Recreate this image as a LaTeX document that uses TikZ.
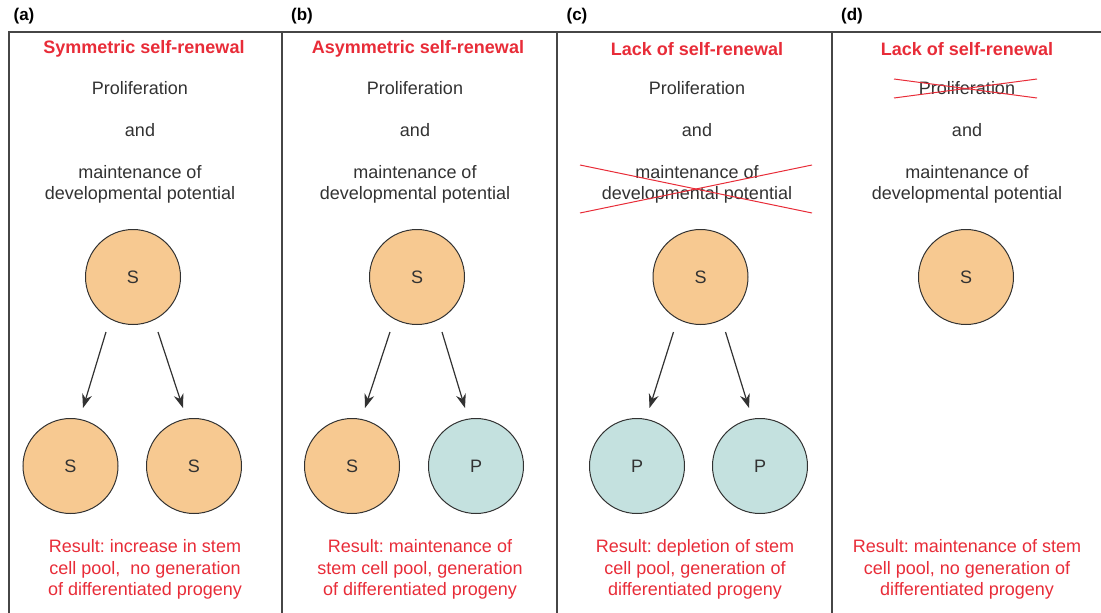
\documentclass[tikz,border=0pt]{standalone}
\usepackage{fontspec}
\setmainfont{Liberation Sans}
\usetikzlibrary{arrows.meta}
\frenchspacing
\definecolor{cellS}{RGB}{247,201,145}
\definecolor{cellP}{RGB}{196,225,223}
\definecolor{redtxt}{RGB}{232,44,56}
\definecolor{txt}{RGB}{50,50,50}
\definecolor{framec}{RGB}{70,70,70}
\begin{document}
\begin{tikzpicture}[x=1pt,y=-1pt,
 cell/.style={circle,draw=txt,line width=1pt,minimum size=95pt,inner sep=0pt,font=\fontsize{18}{21}\selectfont,text=txt},
 scell/.style={cell,fill=cellS},
 pcell/.style={cell,fill=cellP},
 body/.style={font=\fontsize{18}{21.5}\selectfont,text=txt,align=center,inner sep=0pt},
 ttl/.style={font=\bfseries\fontsize{18}{21.5}\selectfont,text=redtxt,inner sep=0pt},
 result/.style={font=\fontsize{18}{21.5}\selectfont,text=redtxt,align=center,inner sep=0pt},
 panel/.style={font=\bfseries\fontsize{17}{20}\selectfont,text=black,inner sep=0pt},
 arr/.style={-{Stealth[length=14pt,width=10pt]},line width=1.2pt,draw=txt},
 cross/.style={draw=redtxt,line width=1pt},
 framel/.style={draw=framec,line width=1.5pt}]
\useasboundingbox (0,0) rectangle (1101,613);
% frame
\draw[framel] (8,32) -- (1101,32);
\foreach \xx in {9,282,557,832} {\draw[framel] (\xx,32) -- (\xx,613);}
% panel labels
\node[panel] (la) at (24,16) {(a)};
\node[panel] (lb) at (302,16) {(b)};
\node[panel] (lc) at (577,16) {(c)};
\node[panel] (ld) at (852,16) {(d)};
% titles
\node[ttl] (ta) at (144,49) {Symmetric self-renewal};
\node[ttl] (tb) at (418,49) {Asymmetric self-renewal};
\node[ttl] (tc) at (697,49) {Lack of self-renewal};
\node[ttl] (td) at (967,49) {Lack of self-renewal};
% body texts
\foreach \n/\cx in {a/140,b/415,c/697,d/967} {
  \node[body] (pr\n) at (\cx,88) {Proliferation};
  \node[body] (an\n) at (\cx,130) {and};
  \node[body] (mt\n) at (\cx,184.5) {maintenance of\\developmental potential};
}
% cross-outs
\draw[cross] (580,165) -- (812,213);
\draw[cross] (580,213) -- (812,165);
\draw[cross] (894,79) -- (1037,98);
\draw[cross] (894,98) -- (1037,79);
% cells
\node[scell] (sa) at (133,277) {S};
\node[scell] (sa1) at (70.5,466) {S};
\node[scell] (sa2) at (194,466) {S};
\node[scell] (sb) at (417,277) {S};
\node[scell] (sb1) at (352,466) {S};
\node[pcell] (pb2) at (476,466) {P};
\node[scell] (sc) at (700.5,277) {S};
\node[pcell] (pc1) at (637,466) {P};
\node[pcell] (pc2) at (760,466) {P};
\node[scell] (sd) at (966,277) {S};
% arrows
\draw[arr] ([shift={(-27,55)}]sa.center) -- ([shift={(12.5,-58)}]sa1.center);
\draw[arr] ([shift={(25,55)}]sa.center) -- ([shift={(-11,-58)}]sa2.center);
\draw[arr] ([shift={(-27,55)}]sb.center) -- ([shift={(13,-58)}]sb1.center);
\draw[arr] ([shift={(25,55)}]sb.center) -- ([shift={(-11,-58)}]pb2.center);
\draw[arr] ([shift={(-27,55)}]sc.center) -- ([shift={(12.5,-58)}]pc1.center);
\draw[arr] ([shift={(25,55)}]sc.center) -- ([shift={(-11,-58)}]pc2.center);
% results
\node[result] (ra) at (145,569.5) {Result: increase in stem\\cell pool,\ \ no generation\\of differentiated progeny};
\node[result] (rb) at (420,569.5) {Result: maintenance of\\stem cell pool, generation\\of differentiated progeny};
\node[result] (rc) at (695,569.5) {Result: depletion of stem\\cell pool, generation of\\differentiated progeny};
\node[result] (rd) at (967,569.5) {Result: maintenance of stem\\cell pool, no generation of\\differentiated progeny};
\end{tikzpicture}
\end{document}
